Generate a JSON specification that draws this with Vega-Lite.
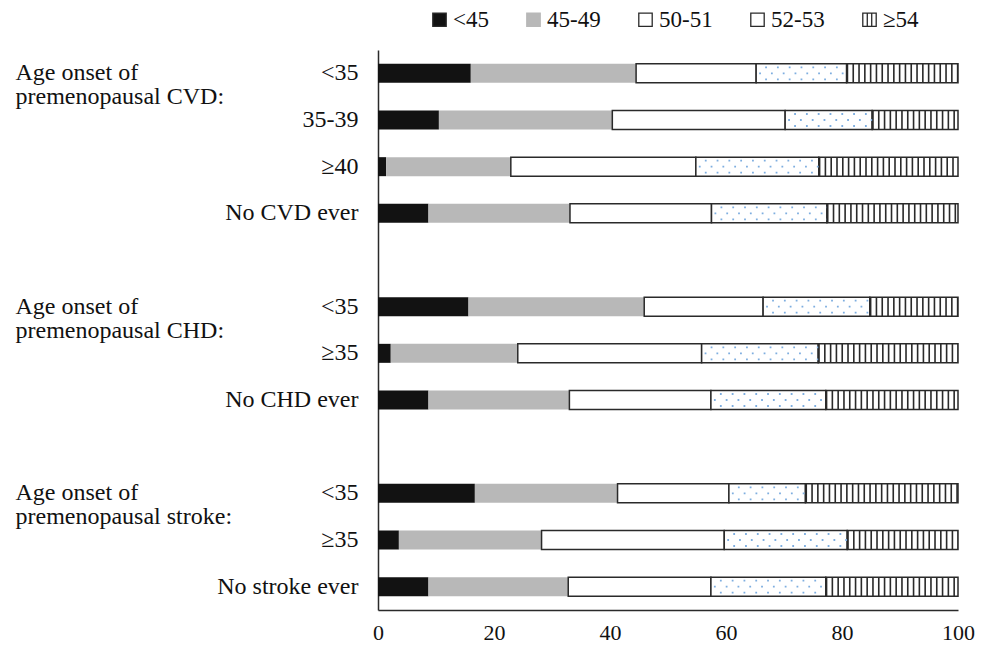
{
  "$schema": "https://vega.github.io/schema/vega-lite/v6.json",
  "width": 580,
  "height": 560,
  "autosize": {"type": "none"},
  "padding": {"left": 378, "top": 50, "right": 30, "bottom": 41},
  "config": {
    "view": {"stroke": null},
    "font": "Liberation Serif",
    "axis": {"grid": false, "ticks": false, "tickSize": 0, "labelFont": "Liberation Serif", "labelColor": "#111111", "domainColor": "#2a2a2a", "domainWidth": 1.5, "labelLimit": 500, "labelOverlap": false},
    "legend": {"labelFont": "Liberation Serif"}
  },
  "data": {
    "values": [
      {"row": "CVD|<35", "cat": "<45", "k": 1, "value": 16.0},
      {"row": "CVD|<35", "cat": "45-49", "k": 2, "value": 28.5},
      {"row": "CVD|<35", "cat": "50-51", "k": 3, "value": 20.7},
      {"row": "CVD|<35", "cat": "52-53", "k": 4, "value": 15.6},
      {"row": "CVD|<35", "cat": "≥54", "k": 5, "value": 19.2},
      {"row": "CVD|35-39", "cat": "<45", "k": 1, "value": 10.5},
      {"row": "CVD|35-39", "cat": "45-49", "k": 2, "value": 29.9},
      {"row": "CVD|35-39", "cat": "50-51", "k": 3, "value": 29.8},
      {"row": "CVD|35-39", "cat": "52-53", "k": 4, "value": 15.0},
      {"row": "CVD|35-39", "cat": "≥54", "k": 5, "value": 14.8},
      {"row": "CVD|≥40", "cat": "<45", "k": 1, "value": 1.4},
      {"row": "CVD|≥40", "cat": "45-49", "k": 2, "value": 21.5},
      {"row": "CVD|≥40", "cat": "50-51", "k": 3, "value": 31.9},
      {"row": "CVD|≥40", "cat": "52-53", "k": 4, "value": 21.2},
      {"row": "CVD|≥40", "cat": "≥54", "k": 5, "value": 24.0},
      {"row": "CVD|No CVD ever", "cat": "<45", "k": 1, "value": 8.7},
      {"row": "CVD|No CVD ever", "cat": "45-49", "k": 2, "value": 24.4},
      {"row": "CVD|No CVD ever", "cat": "50-51", "k": 3, "value": 24.4},
      {"row": "CVD|No CVD ever", "cat": "52-53", "k": 4, "value": 19.9},
      {"row": "CVD|No CVD ever", "cat": "≥54", "k": 5, "value": 22.6},
      {"row": "CHD|<35", "cat": "<45", "k": 1, "value": 15.6},
      {"row": "CHD|<35", "cat": "45-49", "k": 2, "value": 30.3},
      {"row": "CHD|<35", "cat": "50-51", "k": 3, "value": 20.5},
      {"row": "CHD|<35", "cat": "52-53", "k": 4, "value": 18.4},
      {"row": "CHD|<35", "cat": "≥54", "k": 5, "value": 15.2},
      {"row": "CHD|≥35", "cat": "<45", "k": 1, "value": 2.2},
      {"row": "CHD|≥35", "cat": "45-49", "k": 2, "value": 21.9},
      {"row": "CHD|≥35", "cat": "50-51", "k": 3, "value": 31.7},
      {"row": "CHD|≥35", "cat": "52-53", "k": 4, "value": 20.1},
      {"row": "CHD|≥35", "cat": "≥54", "k": 5, "value": 24.1},
      {"row": "CHD|No CHD ever", "cat": "<45", "k": 1, "value": 8.7},
      {"row": "CHD|No CHD ever", "cat": "45-49", "k": 2, "value": 24.3},
      {"row": "CHD|No CHD ever", "cat": "50-51", "k": 3, "value": 24.4},
      {"row": "CHD|No CHD ever", "cat": "52-53", "k": 4, "value": 19.8},
      {"row": "CHD|No CHD ever", "cat": "≥54", "k": 5, "value": 22.8},
      {"row": "Stroke|<35", "cat": "<45", "k": 1, "value": 16.7},
      {"row": "Stroke|<35", "cat": "45-49", "k": 2, "value": 24.6},
      {"row": "Stroke|<35", "cat": "50-51", "k": 3, "value": 19.2},
      {"row": "Stroke|<35", "cat": "52-53", "k": 4, "value": 13.2},
      {"row": "Stroke|<35", "cat": "≥54", "k": 5, "value": 26.3},
      {"row": "Stroke|≥35", "cat": "<45", "k": 1, "value": 3.6},
      {"row": "Stroke|≥35", "cat": "45-49", "k": 2, "value": 24.6},
      {"row": "Stroke|≥35", "cat": "50-51", "k": 3, "value": 31.5},
      {"row": "Stroke|≥35", "cat": "52-53", "k": 4, "value": 21.2},
      {"row": "Stroke|≥35", "cat": "≥54", "k": 5, "value": 19.1},
      {"row": "Stroke|No stroke ever", "cat": "<45", "k": 1, "value": 8.7},
      {"row": "Stroke|No stroke ever", "cat": "45-49", "k": 2, "value": 24.1},
      {"row": "Stroke|No stroke ever", "cat": "50-51", "k": 3, "value": 24.6},
      {"row": "Stroke|No stroke ever", "cat": "52-53", "k": 4, "value": 19.8},
      {"row": "Stroke|No stroke ever", "cat": "≥54", "k": 5, "value": 22.8}
    ]
  },
  "transform": [
    {"stack": "value", "groupby": ["row"], "sort": [{"field": "k", "order": "ascending"}], "as": ["x0", "x1"]}
  ],
  "encoding": {
    "y": {
      "field": "row", "type": "nominal",
      "scale": {"domain": ["CVD|<35", "CVD|35-39", "CVD|≥40", "CVD|No CVD ever", "gap1", "CHD|<35", "CHD|≥35", "CHD|No CHD ever", "gap2", "Stroke|<35", "Stroke|≥35", "Stroke|No stroke ever"], "paddingInner": 0, "paddingOuter": 0},
      "axis": null
    }
  },
  "resolve": {"scale": {"y": "independent"}, "axis": {"y": "independent"}},
  "layer": [
    {
      "mark": {"type": "bar", "size": 19, "strokeWidth": 1.5},
      "encoding": {
        "y": {
          "field": "row", "type": "nominal",
          "scale": {"domain": ["CVD|<35", "CVD|35-39", "CVD|≥40", "CVD|No CVD ever", "gap1", "CHD|<35", "CHD|≥35", "CHD|No CHD ever", "gap2", "Stroke|<35", "Stroke|≥35", "Stroke|No stroke ever"], "paddingInner": 0, "paddingOuter": 0},
          "axis": {"orient": "left", "title": null, "labelExpr": "split(datum.value, '|')[1] || ''", "labelFont": "Liberation Serif", "labelFontSize": 24, "labelPadding": 20, "labelAlign": "right", "labelBaseline": "middle"}
        },
        "x": {
          "field": "x0", "type": "quantitative",
          "scale": {"domain": [0, 100], "nice": false},
          "axis": {"title": null, "values": [0, 20, 40, 60, 80, 100], "labelFont": "Liberation Serif", "labelFontSize": 22, "labelPadding": 12, "labelFlush": false}
        },
        "x2": {"field": "x1"},
        "fill": {
          "field": "cat", "type": "nominal",
          "scale": {"domain": ["<45", "45-49", "50-51", "52-53", "≥54"], "range": ["#121212", "#b8b8b8", "#ffffff", "#ffffff", "#ffffff"]},
          "legend": {
            "title": null, "orient": "none", "direction": "horizontal", "legendX": 50, "legendY": -42,
            "symbolType": "square", "symbolSize": 180, "symbolStrokeWidth": 1.3, "symbolStrokeColor": "#2a2a2a",
            "labelFont": "Liberation Serif", "labelFontSize": 23, "labelOffset": 2, "columnPadding": 33, "padding": 0,
            "labelColor": "#111111",
            "encode": {
              "symbols": {
                "update": {
                  "stroke": {"signal": "datum.value === '45-49' ? '#b8b8b8' : '#2a2a2a'"},
                  "shape": {"signal": "datum.value === '≥54' ? 'M-1,-1H1V1H-1ZM-0.33,-1V1M0.33,-1V1' : 'square'"}
                }
              }
            }
          }
        },
        "stroke": {
          "condition": {"test": "datum.cat === '<45' || datum.cat === '45-49'", "value": "transparent"},
          "value": "#2a2a2a"
        }
      }
    },
    {
      "transform": [{"filter": "datum.cat === '≥54'"}],
      "mark": {"type": "rule", "strokeWidth": 18.5, "strokeDash": [1.6, 4.2], "color": "#2a2a2a"},
      "encoding": {
        "x": {"field": "x0", "type": "quantitative", "scale": {"domain": [0, 100], "nice": false}},
        "x2": {"field": "x1"}
      }
    },
    {
      "transform": [{"filter": "datum.cat === '52-53'"}],
      "mark": {"type": "rule", "strokeWidth": 1.8, "strokeDash": [1.8, 10], "strokeDashOffset": -9, "yOffset": -6, "color": "#7eaee0"},
      "encoding": {
        "x": {"field": "x0", "type": "quantitative", "scale": {"domain": [0, 100], "nice": false}},
        "x2": {"field": "x1"}
      }
    },
    {
      "transform": [{"filter": "datum.cat === '52-53'"}],
      "mark": {"type": "rule", "strokeWidth": 1.8, "strokeDash": [1.8, 10], "strokeDashOffset": -3, "yOffset": 0, "color": "#7eaee0"},
      "encoding": {
        "x": {"field": "x0", "type": "quantitative", "scale": {"domain": [0, 100], "nice": false}},
        "x2": {"field": "x1"}
      }
    },
    {
      "transform": [{"filter": "datum.cat === '52-53'"}],
      "mark": {"type": "rule", "strokeWidth": 1.8, "strokeDash": [1.8, 10], "strokeDashOffset": -9, "yOffset": 6, "color": "#7eaee0"},
      "encoding": {
        "x": {"field": "x0", "type": "quantitative", "scale": {"domain": [0, 100], "nice": false}},
        "x2": {"field": "x1"}
      }
    },
    {
      "transform": [{"filter": "datum.k === 1"}],
      "mark": {"type": "bar", "opacity": 0, "size": 1},
      "encoding": {
        "y": {
          "field": "row", "type": "nominal",
          "scale": {"domain": ["CVD|<35", "CVD|35-39", "CVD|≥40", "CVD|No CVD ever", "gap1", "CHD|<35", "CHD|≥35", "CHD|No CHD ever", "gap2", "Stroke|<35", "Stroke|≥35", "Stroke|No stroke ever"], "paddingInner": 0, "paddingOuter": 0},
          "axis": {
            "orient": "left", "title": null, "domain": false,
            "labelExpr": "datum.value === 'CVD|<35' ? ['Age onset of', 'premenopausal CVD:'] : datum.value === 'CHD|<35' ? ['Age onset of', 'premenopausal CHD:'] : datum.value === 'Stroke|<35' ? ['Age onset of', 'premenopausal stroke:'] : ''",
            "labelFont": "Liberation Serif", "labelFontSize": 24, "labelLineHeight": 24, "labelPadding": 363, "labelAlign": "left", "labelBaseline": "middle"
          }
        },
        "x": {"field": "x0", "type": "quantitative", "scale": {"domain": [0, 100], "nice": false}},
        "x2": {"field": "x1"}
      }
    }
  ]
}
